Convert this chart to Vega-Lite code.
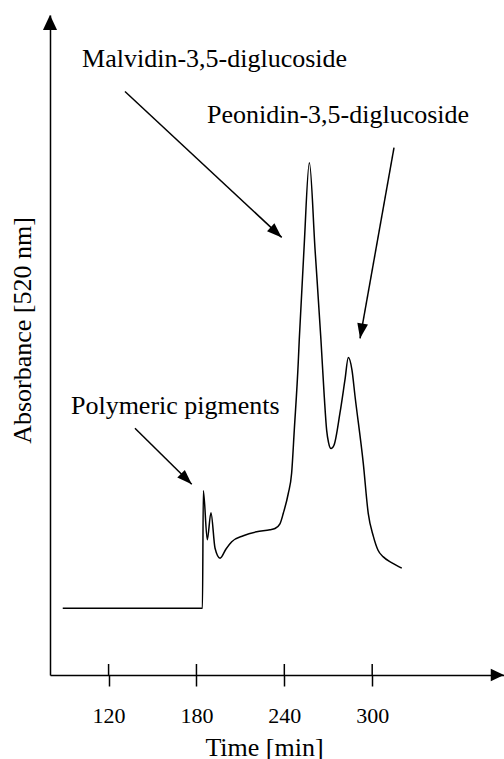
{
  "$schema": "https://vega.github.io/schema/vega-lite/v6.json",
  "width": 454,
  "height": 660,
  "autosize": {"type": "none"},
  "padding": {"left": 50, "top": 15, "right": 0, "bottom": 84},
  "background": "white",
  "config": {
    "view": {"stroke": null},
    "font": "Liberation Serif",
    "axis": {"domainColor": "black", "domainWidth": 1.5, "tickColor": "black", "tickWidth": 1.5, "labelColor": "black", "titleColor": "black", "labelFont": "Liberation Serif", "titleFont": "Liberation Serif", "titleFontWeight": "normal", "grid": false}
  },
  "datasets": {
    "curve": [
      {"t": 88.7, "a": 10.1}, {"t": 184.1, "a": 10.1}, {"t": 184.7, "a": 27.9}, {"t": 187.4, "a": 20.5},
      {"t": 189.9, "a": 24.6}, {"t": 192.7, "a": 19.2}, {"t": 196.1, "a": 17.7}, {"t": 200.2, "a": 19.1},
      {"t": 204.1, "a": 20.2}, {"t": 212.0, "a": 21.1}, {"t": 221.1, "a": 21.7}, {"t": 230.2, "a": 22.0},
      {"t": 233.6, "a": 22.2}, {"t": 237.0, "a": 22.9}, {"t": 239.3, "a": 24.5}, {"t": 242.7, "a": 27.5},
      {"t": 245.0, "a": 30.6}, {"t": 246.8, "a": 37.1}, {"t": 249.5, "a": 47.3}, {"t": 250.2, "a": 50.8},
      {"t": 253.4, "a": 64.4}, {"t": 257.1, "a": 77.6}, {"t": 261.0, "a": 64.4}, {"t": 265.0, "a": 50.8},
      {"t": 267.3, "a": 42.1}, {"t": 268.9, "a": 37.1}, {"t": 270.2, "a": 35.2}, {"t": 271.9, "a": 34.3},
      {"t": 273.9, "a": 34.8}, {"t": 278.0, "a": 39.7}, {"t": 281.4, "a": 44.7}, {"t": 283.7, "a": 48.1},
      {"t": 286.2, "a": 46.2}, {"t": 288.3, "a": 42.2}, {"t": 293.9, "a": 32.1}, {"t": 297.3, "a": 24.5},
      {"t": 300.8, "a": 21.0}, {"t": 304.0, "a": 18.9}, {"t": 307.6, "a": 17.9}, {"t": 313.5, "a": 17.0},
      {"t": 320.2, "a": 16.2}
    ],
    "ticks": [{"t": 120, "lo": 0, "hi": 1.67}, {"t": 180, "lo": 0, "hi": 1.67}, {"t": 240, "lo": 0, "hi": 1.67}, {"t": 300, "lo": 0, "hi": 1.67}],
    "arrows": [
      {"name": "malvidin", "x1": 131.2, "y1": 88.4, "x2": 238.2, "y2": 66.3},
      {"name": "peonidin", "x1": 314.9, "y1": 79.9, "x2": 291.7, "y2": 51.0},
      {"name": "polymeric", "x1": 138.0, "y1": 37.4, "x2": 176.8, "y2": 28.9}
    ],
    "labels": [
      {"label": "Malvidin-3,5-diglucoside", "t": 101.9, "a": 92.1},
      {"label": "Peonidin-3,5-diglucoside", "t": 187.2, "a": 83.7},
      {"label": "Polymeric pigments", "t": 94.3, "a": 39.5}
    ],
    "axisTips": [{"axis": "y", "t": 80, "a": 100}, {"axis": "x", "t": 390, "a": 0}]
  },
  "layer": [
    {
      "data": {"name": "curve"},
      "mark": {"type": "line", "color": "black", "strokeWidth": 1.5, "interpolate": "monotone"},
      "encoding": {
        "x": {"field": "t", "type": "quantitative", "scale": {"domain": [80, 390], "nice": false, "zero": false},
          "axis": {"values": [120, 180, 240, 300], "tickSize": 11, "labelFontSize": 22, "labelPadding": 19, "title": "Time [min]", "titleFontSize": 26, "titleX": 214, "titleY": 80, "titleBaseline": "alphabetic", "titleAlign": "center", "titleAnchor": null}},
        "y": {"field": "a", "type": "quantitative", "scale": {"domain": [0, 100], "nice": false},
          "axis": {"ticks": false, "labels": false, "title": "Absorbance [520 nm]", "titleFontSize": 26, "titleX": -20, "titleY": 315, "titleAngle": -90, "titleBaseline": "alphabetic", "titleAlign": "center", "titleAnchor": null}}
      }
    },
    {
      "data": {"name": "ticks"},
      "mark": {"type": "rule", "color": "black", "strokeWidth": 1.5},
      "encoding": {"x": {"field": "t", "type": "quantitative"}, "y": {"field": "lo", "type": "quantitative"}, "y2": {"field": "hi"}}
    },
    {
      "data": {"name": "arrows"},
      "mark": {"type": "rule", "color": "black", "strokeWidth": 1.5},
      "encoding": {"x": {"field": "x1", "type": "quantitative"}, "y": {"field": "y1", "type": "quantitative"}, "x2": {"field": "x2"}, "y2": {"field": "y2"}}
    },
    {
      "data": {"name": "arrows"},
      "transform": [{"filter": "datum.name === 'malvidin'"}],
      "mark": {"type": "point", "shape": "M0,0L-0.36,1L0.36,1Z", "size": 900, "filled": true, "color": "black", "opacity": 1, "angle": 133},
      "encoding": {"x": {"field": "x2", "type": "quantitative"}, "y": {"field": "y2", "type": "quantitative"}}
    },
    {
      "data": {"name": "arrows"},
      "transform": [{"filter": "datum.name === 'peonidin'"}],
      "mark": {"type": "point", "shape": "M0,0L-0.36,1L0.36,1Z", "size": 900, "filled": true, "color": "black", "opacity": 1, "angle": 190},
      "encoding": {"x": {"field": "x2", "type": "quantitative"}, "y": {"field": "y2", "type": "quantitative"}}
    },
    {
      "data": {"name": "arrows"},
      "transform": [{"filter": "datum.name === 'polymeric'"}],
      "mark": {"type": "point", "shape": "M0,0L-0.36,1L0.36,1Z", "size": 900, "filled": true, "color": "black", "opacity": 1, "angle": 134.5},
      "encoding": {"x": {"field": "x2", "type": "quantitative"}, "y": {"field": "y2", "type": "quantitative"}}
    },
    {
      "data": {"name": "axisTips"},
      "transform": [{"filter": "datum.axis === 'y'"}],
      "mark": {"type": "point", "shape": "M0,0L-0.47,1L0.47,1Z", "size": 900, "filled": true, "color": "black", "opacity": 1, "angle": 0},
      "encoding": {"x": {"field": "t", "type": "quantitative"}, "y": {"field": "a", "type": "quantitative"}}
    },
    {
      "data": {"name": "axisTips"},
      "transform": [{"filter": "datum.axis === 'x'"}],
      "mark": {"type": "point", "shape": "M0,0L-0.47,1L0.47,1Z", "size": 700, "filled": true, "color": "black", "opacity": 1, "angle": 90},
      "encoding": {"x": {"field": "t", "type": "quantitative"}, "y": {"field": "a", "type": "quantitative"}}
    },
    {
      "data": {"name": "labels"},
      "mark": {"type": "text", "align": "left", "baseline": "alphabetic", "font": "Liberation Serif", "fontSize": 26, "color": "black"},
      "encoding": {"x": {"field": "t", "type": "quantitative"}, "y": {"field": "a", "type": "quantitative"}, "text": {"field": "label"}}
    }
  ]
}
